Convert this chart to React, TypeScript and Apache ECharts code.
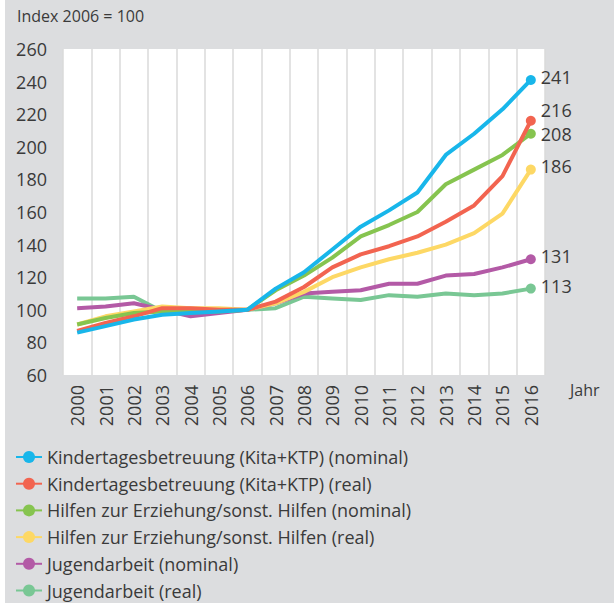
import React, { useEffect, useRef } from "react";
import * as echarts from "echarts";

const years = ["2000","2001","2002","2003","2004","2005","2006","2007","2008","2009","2010","2011","2012","2013","2014","2015","2016"];
const kitaNominal = [86, 90, 94, 97, 98, 99, 100, 113, 123, 137, 151, 161, 172, 195, 208, 223, 241];
const kitaReal = [87, 92, 96, 101, 101, 100, 100, 105, 114, 126, 134, 139, 145, 154, 164, 182, 216];
const hzeNominal = [91, 95, 98, 99, 99, 99, 100, 112, 121, 132, 145, 152, 160, 177, 186, 195, 208];
const hzeReal = [91, 96, 99, 102, 101, 101, 100, 104, 111, 120, 126, 131, 135, 140, 147, 159, 186];
const jugendNominal = [101, 102, 104, 100, 96, 98, 100, 104, 110, 111, 112, 116, 116, 121, 122, 126, 131];
const jugendReal = [107, 107, 108, 99, 99, 99, 100, 101, 108, 107, 106, 109, 108, 110, 109, 110, 113];

const names = [
  "Kindertagesbetreuung (Kita+KTP) (nominal)",
  "Kindertagesbetreuung (Kita+KTP) (real)",
  "Hilfen zur Erziehung/sonst. Hilfen (nominal)",
  "Hilfen zur Erziehung/sonst. Hilfen (real)",
  "Jugendarbeit (nominal)",
  "Jugendarbeit (real)",
];
const FONT = "'Open Sans', sans-serif";
const TXT = "#3a3a3a";

export default function App() {
  const ref = useRef<HTMLDivElement>(null);
  useEffect(() => {
    if (!ref.current) return;
    const chart = echarts.init(ref.current, undefined, { renderer: "svg" });
    const last = years.length - 1;
    const mk = (name: string, data: number[], color: string, off: number, z: number) => ({
      name,
      type: "line",
      data,
      z,
      color,
      symbol: "circle",
      showSymbol: true,
      showAllSymbol: true,
      symbolSize: (_v: any, p: any) => (p.dataIndex === last ? 10 : 0),
      lineStyle: { width: 4, color },
      itemStyle: { color },
      emphasis: { disabled: true },
      endLabel: {
        show: true,
        formatter: "{c}",
        distance: 10,
        offset: [0, off],
        fontSize: 18,
        lineHeight: 18,
        color: TXT,
        fontFamily: FONT,
      },
    });
    chart.setOption({
      animation: false,
      backgroundColor: "#dcdddf",
      textStyle: { fontFamily: FONT },
      graphic: [
        {
          type: "rect",
          shape: { x: 58, y: 49, width: 482, height: 326 },
          style: { fill: "#ffffff" },
          z: -1,
          silent: true,
        },
        {
          type: "text",
          x: 12,
          y: 8,
          style: { text: "Index 2006 = 100", fontSize: 16, fontFamily: "Open Sans", fill: TXT },
        },
        {
          type: "text",
          x: 565,
          y: 382,
          style: { text: "Jahr", fontSize: 16, fontFamily: "Open Sans", fill: TXT },
        },
      ],
      grid: { left: 58, right: 69, top: 49, bottom: 228, containLabel: false },
      xAxis: {
        type: "category",
        data: years,
        boundaryGap: true,
        axisLine: { show: false },
        axisTick: { show: false },
        axisLabel: { rotate: 90, fontSize: 18, color: TXT, fontFamily: FONT, margin: 10, interval: 0 },
        splitLine: { show: true, interval: 0, lineStyle: { color: "#dadada", width: 1.5 } },
      },
      yAxis: {
        type: "value",
        min: 60,
        max: 260,
        interval: 20,
        axisLine: { show: false },
        axisTick: { show: false },
        splitLine: { show: false },
        axisLabel: { fontSize: 18, color: TXT, fontFamily: FONT, margin: 16 },
      },
      legend: {
        orient: "vertical",
        left: 10,
        top: 447,
        height: 156,
        padding: 0,
        itemWidth: 26,
        itemHeight: 15,
        itemGap: 6.7,
        data: names,
        textStyle: { fontSize: 18, color: TXT, fontFamily: FONT, lineHeight: 20 },
      },
      series: [
        mk(names[5], jugendReal, "#79c794", -3, 2),
        mk(names[4], jugendNominal, "#b35aa6", -3, 3),
        mk(names[3], hzeReal, "#fdd865", -4, 4),
        mk(names[2], hzeNominal, "#86c44f", 0, 5),
        mk(names[1], kitaReal, "#f26450", -11, 6),
        mk(names[0], kitaNominal, "#18b6ea", -3, 7),
      ],
    });
    return () => chart.dispose();
  }, []);
  return (
    <div style={{ position: "absolute", left: 0, top: 0, width: 614, height: 603, background: "#ffffff" }}>
      <div ref={ref} style={{ position: "absolute", left: 5, top: 0, width: 609, height: 603 }} />
    </div>
  );
}
